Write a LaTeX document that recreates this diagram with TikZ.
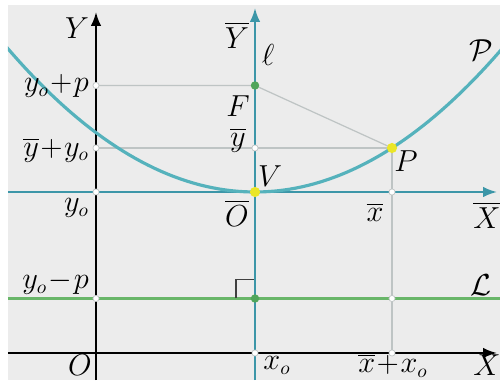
\documentclass[tikz,border=0pt]{standalone}
\usepackage{amsmath,amssymb}
\usepackage{xcolor}
\usepackage{tikz}
\usetikzlibrary{arrows.meta,calc}
\definecolor{axisteal}{RGB}{60,150,168}
\definecolor{curveteal}{RGB}{85,178,188}
\definecolor{dirgreen}{RGB}{105,182,105}
\definecolor{guidegray}{RGB}{190,196,196}
\definecolor{bggray}{RGB}{236,236,236}
\definecolor{dotyellow}{RGB}{235,230,40}
\definecolor{dotgreen}{RGB}{80,165,90}

\begin{document}
\begin{tikzpicture}[>=Latex,every node/.style={font=\fontsize{16}{18}\selectfont},
  guide/.style={guidegray,line width=0.7pt},
  smalldot/.style={circle,fill=white,draw=guidegray,line width=0.4pt,inner sep=0pt,minimum size=3.5pt},
  bigdot/.style={circle,inner sep=0pt,minimum size=5.8pt}]
\useasboundingbox (-1.92,-0.54) rectangle (8.08,7.06);
\fill[bggray] (-1.76,-0.54) rectangle (8.08,6.96);
% points
\coordinate (O) at (0,0);
\coordinate (Obar) at (3.18,3.22);
\coordinate (F) at (3.18,5.35);
\coordinate (P) at (5.92,4.10);
\coordinate (Ldir) at (3.18,1.09);
\coordinate (yF) at (0,5.35);
\coordinate (yP) at (0,4.10);
\coordinate (yV) at (0,3.22);
\coordinate (yL) at (0,1.09);
\coordinate (xP) at (5.92,3.22);
\coordinate (lP) at (5.92,1.09);
\coordinate (bP) at (5.92,0);
\coordinate (bV) at (3.18,0);
\coordinate (mP) at (3.18,4.10);
% guide lines
\draw[guide] (yF) -- (F) -- (P);
\draw[guide] (yP) -- (P) -- (bP);
% directrix
\draw[dirgreen,line width=1.2pt] (-1.76,1.09) -- (8.08,1.09);
\draw[black!75,line width=0.8pt] ($(Ldir)+(-0.38,0)$) |- ($(Ldir)+(0,0.38)$);
% axes
\draw[->,line width=1.1pt] (-1.76,0) -- (8.02,0);
\draw[->,line width=1.1pt] (0,-0.54) -- (0,6.82);
\draw[->,axisteal,line width=1.1pt] (-1.76,3.22) -- (8.02,3.22);
\draw[->,axisteal,line width=1.1pt] (3.18,-0.54) -- (3.18,6.9);
% parabola
\begin{scope}
\clip (-1.76,-0.54) rectangle (8.08,6.96);
\draw[curveteal,line width=1.8pt] plot[domain=-1.9:8.2,samples=80] (\x,{3.22+(\x-3.18)^2/8.52});
\end{scope}
% dots
\foreach \p in {yF,yP,yV,yL,xP,lP,bP,bV,mP}
  \node[smalldot] at (\p) {};
\node[bigdot,fill=dotgreen,minimum size=4.8pt] (Fdot) at (F) {};
\node[bigdot,fill=dotgreen,minimum size=4.8pt] (Ldot) at (Ldir) {};
\node[bigdot,fill=dotyellow] (Pdot) at (P) {};
\node[bigdot,fill=dotyellow] (Vdot) at (Obar) {};
% labels
\node (labY) at (-0.38,6.5) {$Y$};
\node (labYbar) at (2.82,6.36) {$\overline{Y}$};
\node (labell) at (3.44,5.96) {$\ell$};
\node (labPc) at (7.7,6.06) {$\mathcal{P}$};
\node[anchor=east,inner sep=1pt] (labyF) at (-0.1,5.34) {$y_o\!+\!p$};
\node (labF) at (2.84,4.94) {$F$};
\node (labybar) at (2.84,4.26) {$\overline{y}$};
\node[anchor=east,inner sep=1pt] (labyP) at (-0.1,4.06) {$\overline{y}\!+\!y_o$};
\node (labP) at (6.2,3.84) {$P$};
\node (labV) at (3.48,3.54) {$V$};
\node[anchor=east,inner sep=1pt] (labyV) at (-0.1,2.9) {$y_o$};
\node (labObar) at (2.82,2.8) {$\overline{O}$};
\node (labxbar) at (5.58,2.82) {$\overline{x}$};
\node (labXbar) at (7.82,2.76) {$\overline{X}$};
\node[anchor=east,inner sep=1pt] (labyL) at (-0.1,1.4) {$y_o\!-\!p$};
\node (labL) at (7.7,1.36) {$\mathcal{L}$};
\node (labO) at (-0.32,-0.24) {$O$};
\node (labxo) at (3.62,-0.25) {$x_o$};
\node (labxP) at (5.94,-0.25) {$\overline{x}\!+\!x_o$};
\node (labX) at (7.82,-0.24) {$X$};
\end{tikzpicture}
\end{document}
